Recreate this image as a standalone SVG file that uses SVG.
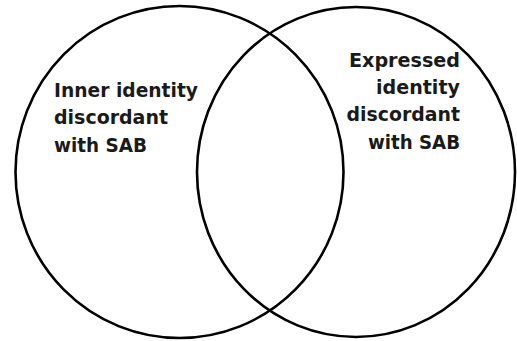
<svg xmlns="http://www.w3.org/2000/svg" width="517" height="341" viewBox="0 0 517 341">
<style>
.c{fill:none;stroke:#000;stroke-width:2.6}
.t{font-family:"DejaVu Sans",sans-serif;font-weight:bold;font-size:20px;fill:#1a1a1a}
</style>
<rect width="517" height="341" fill="#fff"/>
<g id="inner">
<ellipse class="c" cx="179.5" cy="172" rx="164" ry="166"/>
<text class="t" x="54" y="96.7" textLength="144" lengthAdjust="spacingAndGlyphs">Inner identity</text>
<text class="t" x="54" y="124.3" textLength="114" lengthAdjust="spacingAndGlyphs">discordant</text>
<text class="t" x="54" y="151.5" textLength="93" lengthAdjust="spacingAndGlyphs">with SAB</text>
</g>
<g id="expressed">
<ellipse class="c" cx="356" cy="172" rx="159" ry="165"/>
<text class="t" x="349" y="66.7" textLength="111" lengthAdjust="spacingAndGlyphs">Expressed</text>
<text class="t" x="376" y="94" textLength="84" lengthAdjust="spacingAndGlyphs">identity</text>
<text class="t" x="346.5" y="121.3" textLength="113.5" lengthAdjust="spacingAndGlyphs">discordant</text>
<text class="t" x="368" y="149" textLength="92" lengthAdjust="spacingAndGlyphs">with SAB</text>
</g>
<g id="connectors"/>
</svg>
